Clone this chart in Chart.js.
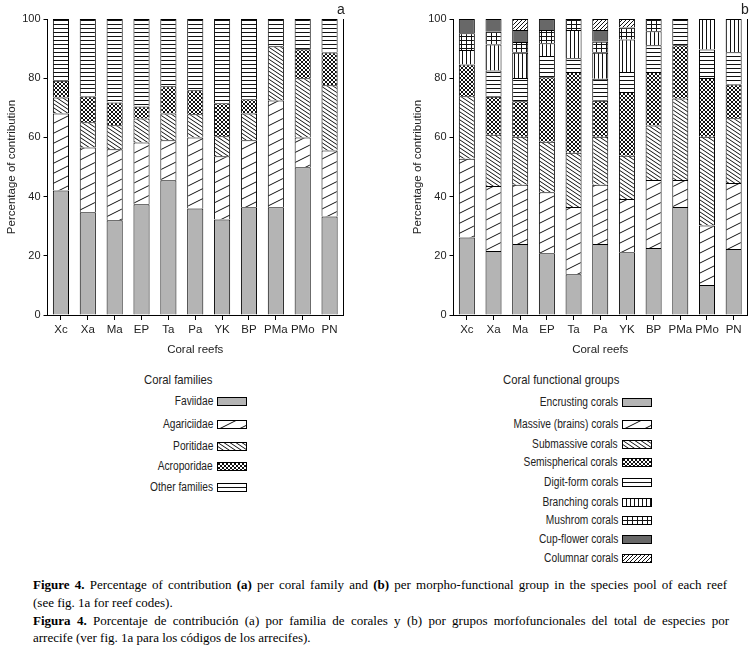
<!DOCTYPE html>
<html><head><meta charset="utf-8">
<script src="https://cdn.jsdelivr.net/npm/chart.js@4.4.0/dist/chart.umd.min.js"></script>
<style>
body{margin:0;background:#fff;width:754px;height:649px;position:relative;overflow:hidden;font-family:"Liberation Sans",Arial,sans-serif;color:#222}
.abs{position:absolute}
.plbl{font-size:14px}
.ltitle{font-size:13px;white-space:nowrap;transform:scaleX(0.87);transform-origin:left center}
.litem{position:absolute;font-size:12px;white-space:nowrap;text-align:right;line-height:14px;transform:scaleX(0.85);transform-origin:right center}
.cap{position:absolute;left:33px;font-family:"Liberation Serif","Times New Roman",serif;font-size:13px;line-height:16px;white-space:nowrap;color:#000}
</style></head><body>
<div class="abs" style="left:0;top:0;width:350px;height:360px"><canvas id="ca" width="350" height="360"></canvas></div>
<div class="abs" style="left:406px;top:0;width:348px;height:360px"><canvas id="cb" width="348" height="360"></canvas></div>
<div class="abs plbl" style="left:337px;top:1px">a</div>
<div class="abs plbl" style="left:741px;top:1px">b</div>
<div id="lega"></div>
<div id="legb"></div>
<div class="cap" id="cap1" style="top:577px"><b>Figure 4.</b> Percentage of contribution <b>(a)</b> per coral family and <b>(b)</b> per morpho-functional group in the species pool of each reef</div>
<div class="cap" style="top:595px">(see fig. 1a for reef codes).</div>
<div class="cap" id="cap3" style="top:613px"><b>Figura 4.</b> Porcentaje de contribución (a) por familia de corales y (b) por grupos morfofuncionales del total de especies por</div>
<div class="cap" style="top:630px">arrecife (ver fig. 1a para los códigos de los arrecifes).</div>
<script>
const reefs = ['Xc','Xa','Ma','EP','Ta','Pa','YK','BP','PMa','PMo','PN'];

// Panel a: coral families (% contribution)
const familyNames = ['Faviidae','Agariciidae','Poritidae','Acroporidae','Other families'];
const faviidae     = [42.1, 34.7, 32.0, 37.4, 45.5, 36.0, 32.3, 36.4, 36.4, 49.9, 33.3];
const agariciidae  = [26.0, 21.9, 24.0, 20.9, 13.5, 24.0, 21.3, 22.6, 36.1, 10.1, 22.3];
const poritidae    = [5.4, 8.5, 8.1, 8.1, 9.1, 7.8, 6.8, 9.1, 18.3, 20.0, 22.0];
const acroporidae  = [5.6, 8.7, 7.7, 4.0, 9.2, 8.1, 11.1, 4.8, null, 9.8, 11.1];
const otherFamilies= [20.9, 26.2, 28.2, 29.6, 22.7, 24.1, 28.5, 27.1, 9.2, 10.2, 11.3];

// Panel b: coral functional groups (% contribution)
const groupNames = ['Encrusting corals','Massive (brains) corals','Submassive corals','Semispherical corals','Digit-form corals','Branching corals','Mushrom corals','Cup-flower corals','Columnar corals'];
const encrusting    = [26.2, 21.6, 24.0, 20.9, 13.8, 24.0, 21.2, 22.6, 36.5, 10.1, 22.3];
const massive       = [26.6, 22.0, 20.0, 20.6, 22.7, 20.0, 18.0, 23.0, 9.1, 20.1, 22.3];
const submassive    = [21.1, 17.3, 16.2, 17.0, 18.3, 16.2, 14.6, 18.4, 27.5, 30.0, 21.9];
const semispherical = [10.7, 12.8, 12.0, 21.8, 27.3, 12.2, 21.5, 18.1, 18.0, 19.9, 11.4];
const digitForm     = [null, 8.9, 7.9, 7.2, 4.6, 7.4, 6.8, 9.0, 8.9, 9.6, 10.9];
const branching     = [4.9, 8.8, 8.5, 4.3, 9.6, 8.8, 11.0, 4.8, null, 10.3, 11.2];
const mushrom       = [5.7, 4.3, 3.6, 4.5, 3.7, 3.7, 4.0, 4.1, null, null, null];
const cupFlower     = [4.8, 4.3, 4.1, 3.7, null, 4.0, null, null, null, null, null];
const columnar      = [null, null, 3.7, null, null, 3.7, 2.9, null, null, null, null];

const familyStyles = ['light','diagWide','backWide','cross','horiz'];
const groupStyles  = ['light','diagWide','backWide','cross','horiz','vert','grid','dark','diagFine'];

function makeFill(kind){
  if(kind==='light') return '#b4b4b4';
  if(kind==='dark') return '#686868';
  const c=document.createElement('canvas');
  let w=4,h=4;
  if(kind==='diagWide'){w=20;h=10;}
  if(kind==='backWide'){w=6;h=4;}
  if(kind==='grid'){w=5;h=4;}
  c.width=w;c.height=h;
  const x=c.getContext('2d');
  x.fillStyle='#fff';x.fillRect(0,0,w,h);
  x.fillStyle='#111';x.strokeStyle='#111';x.lineWidth=1;
  const line=(x1,y1,x2,y2)=>{for(const dy of [-h,0,h]){x.beginPath();x.moveTo(x1,y1+dy);x.lineTo(x2,y2+dy);x.stroke();}};
  if(kind==='diagWide'){line(-2,h+1,w+2,-1);}
  if(kind==='backWide'){line(-w/h,-1,w+w/h,h+1);}
  if(kind==='diagFine'){line(-1,h+1,w+1,-1);}
  if(kind==='cross'){line(-1,h+1,w+1,-1);line(-1,-1,w+1,h+1);}
  if(kind==='horiz'){x.fillRect(0,0,w,1);}
  if(kind==='vert'){x.fillRect(0,0,1,h);}
  if(kind==='grid'){x.fillRect(0,0,w,1);x.fillRect(0,0,1,h);}
  return x.createPattern(c,'repeat');
}

Chart.defaults.font.family='"Liberation Sans",Arial,sans-serif';
Chart.defaults.color='#222';

const rightBorder={id:'rightBorder',afterDraw(ch){const {ctx,chartArea:a}=ch;ctx.save();ctx.strokeStyle='#000';ctx.lineWidth=1;const xr=Math.round(a.right)+0.5;ctx.beginPath();ctx.moveTo(xr,a.top);ctx.lineTo(xr,a.bottom);ctx.stroke();ctx.restore();}};

function makeChart(id,names,series,styles){
  const datasets=series.map((d,i)=>({label:names[i],data:d,backgroundColor:makeFill(styles[i]),borderColor:'#000',
    borderWidth:{top:1,left:1,right:1,bottom:0},borderSkipped:false,categoryPercentage:1,barPercentage:0.6}));
  return new Chart(document.getElementById(id),{
    type:'bar',
    data:{labels:reefs,datasets},
    plugins:[rightBorder],
    options:{
      responsive:false,animation:false,
      layout:{padding:{top:19,right:7,left:0,bottom:0}},
      plugins:{legend:{display:false},tooltip:{enabled:false}},
      scales:{
        x:{stacked:true,grid:{drawOnChartArea:false,offset:false,tickLength:5,color:'#000'},border:{color:'#000'},
           ticks:{font:{size:11.5},padding:3,maxRotation:0,autoSkip:false,color:'#222'},
           title:{display:true,text:'Coral reefs',font:{size:11.5},color:'#222',padding:{top:0,bottom:3}},
           afterFit(s){s.height=45;}},
        y:{stacked:true,min:0,max:100,ticks:{stepSize:20,font:{size:11},padding:3,color:'#222'},
           grid:{drawOnChartArea:false,tickLength:4,color:'#000'},border:{color:'#000'},
           title:{display:true,text:'Percentage of contribution',font:{size:11.5},color:'#222',padding:{top:5,bottom:0}},
           afterFit(s){s.width=47.5;}}
      }
    }
  });
}
makeChart('ca',familyNames,[faviidae,agariciidae,poritidae,acroporidae,otherFamilies],familyStyles);
makeChart('cb',groupNames,[encrusting,massive,submassive,semispherical,digitForm,branching,mushrom,cupFlower,columnar],groupStyles);

function legend(elId,title,titleX,names,styles,textRight,swX,rows){
  const el=document.getElementById(elId);
  const t=document.createElement('div');t.className='abs ltitle';t.style.left=titleX+'px';t.style.top='372px';t.textContent=title;el.appendChild(t);
  names.forEach((n,i)=>{
    const d=document.createElement('div');d.className='litem';d.style.right=(754-textRight)+'px';d.style.top=(rows[i]-7)+'px';d.textContent=n;el.appendChild(d);
    const c=document.createElement('canvas');c.width=30;c.height=9;c.className='abs';c.style.left=swX+'px';c.style.top=(rows[i]-4)+'px';
    const x=c.getContext('2d');x.fillStyle=makeFill(styles[i]);x.fillRect(0,0,30,9);x.strokeStyle='#000';x.lineWidth=1;x.strokeRect(0.5,0.5,29,8);
    el.appendChild(c);
  });
}
legend('lega','Coral families',144,familyNames,familyStyles,213,217,[401,424,446,466,487]);
legend('legb','Coral functional groups',503,groupNames,groupStyles,618,622,[402,424,444,462,482,502,520,539,558]);

function justify(id,target){const el=document.getElementById(id);const w=el.getBoundingClientRect().width;const spaces=(el.textContent.match(/ /g)||[]).length;if(spaces)el.style.wordSpacing=((target-w)/spaces)+'px';}
justify('cap1',694);justify('cap3',696);
</script>
</body></html>
